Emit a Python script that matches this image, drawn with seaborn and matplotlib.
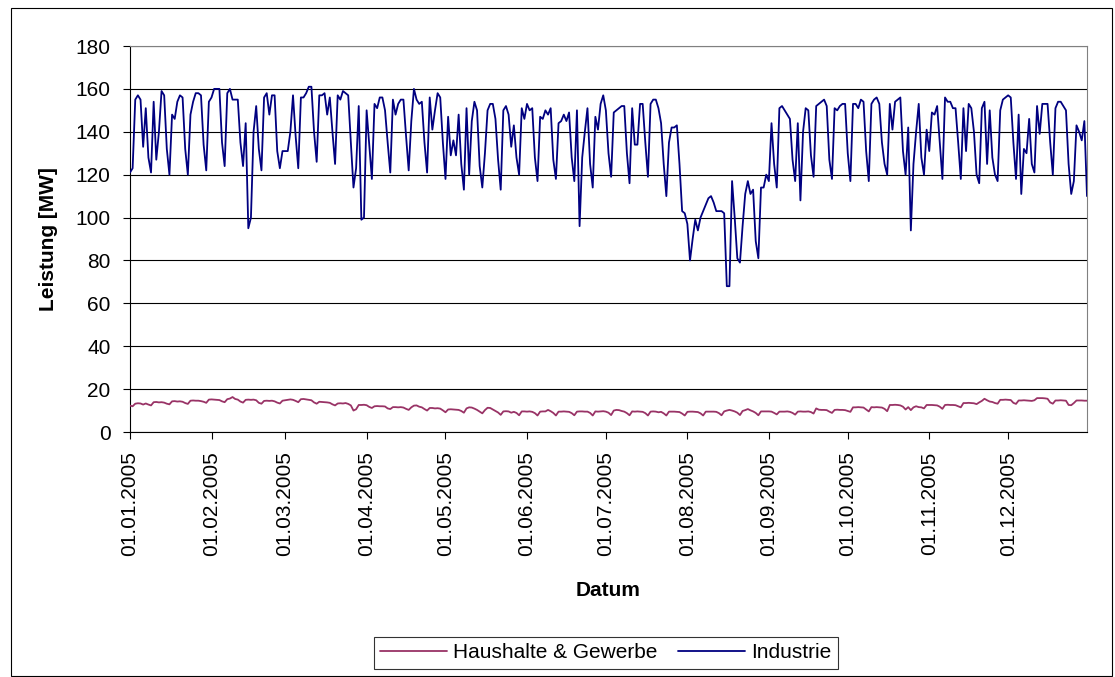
import matplotlib
matplotlib.use("Agg")
import matplotlib.pyplot as plt
import matplotlib.dates as mdates
from matplotlib.patches import Rectangle
import numpy as np
import pandas as pd
import seaborn as sns

# ─── DATA (daily values 2005, rows = Sat..Fri) ───────────────────────────────

industrie = [
    121, 123, 155, 157, 155, 133, 151,
    128, 121, 154, 127, 140, 159, 157,
    132, 120, 148, 146, 154, 157, 156,
    132, 120, 148, 154, 158, 158, 157,
    134, 122, 154, 156, 160, 160, 160,
    135, 124, 158, 160, 155, 155, 155,
    135, 124, 144, 95, 100, 140, 152,
    132, 122, 156, 158, 148, 157, 157,
    131, 123, 131, 131, 131, 140, 157,
    138, 123, 156, 156, 158, 161, 161,
    140, 126, 157, 157, 158, 148, 156,
    140, 125, 157, 155, 159, 158, 157,
    135, 114, 123, 152, 99, 100, 150,
    134, 118, 153, 151, 156, 156, 150,
    135, 121, 155, 148, 153, 155, 155,
    138, 122, 145, 160, 155, 153, 154,
    135, 121, 156, 141, 150, 158, 156,
    135, 118, 147, 129, 136, 129, 148,
    125, 113, 151, 120, 145, 154, 150,
    124, 114, 130, 150, 153, 153, 146,
    127, 113, 150, 152, 148, 133, 143,
    128, 120, 151, 146, 153, 150, 151,
    128, 117, 147, 146, 150, 148, 151,
    127, 118, 144, 145, 148, 145, 149,
    128, 117, 150, 96, 128, 140, 151,
    125, 114, 147, 141, 153, 157, 150,
    130, 119, 149, 150, 151, 152, 152,
    130, 116, 151, 134, 134, 153, 153,
    135, 119, 153, 155, 155, 151, 144,
    125, 110, 135, 142, 142, 143, 125,
    103, 102, 97, 80, 90, 99, 94,
    100, 103, 106, 109, 110, 107, 103,
    103, 103, 102, 68, 68, 117, 100,
    81, 79, 96, 111, 117, 111, 113,
    89, 81, 114, 114, 120, 117, 144,
    125, 114, 151, 152, 150, 148, 146,
    127, 117, 144, 108, 140, 151, 150,
    129, 119, 152, 153, 154, 155, 152,
    127, 118, 151, 150, 152, 153, 153,
    130, 117, 153, 153, 151, 155, 154,
    131, 117, 153, 155, 156, 153, 135,
    125, 120, 153, 141, 154, 155, 156,
    131, 120, 142, 94, 125, 140, 153,
    128, 120, 141, 131, 149, 148, 152,
    135, 118, 156, 154, 154, 151, 151,
    135, 118, 151, 131, 153, 151, 140,
    120, 116, 151, 154, 125, 150, 128,
    120, 117, 150, 155, 156, 157, 156,
    135, 118, 148, 111, 132, 130, 146,
    125, 121, 152, 139, 153, 153, 153,
    135, 120, 151, 154, 154, 152, 150,
    125, 111, 117, 143, 140, 136, 145,
    110,
]

haushalte = [
    12.3, 12.0, 13.2, 13.4, 13.3, 12.8, 13.3,
    12.8, 12.4, 13.9, 14.0, 13.8, 13.9, 13.7,
    13.2, 12.9, 14.3, 14.4, 14.2, 14.3, 14.1,
    13.5, 13.1, 14.6, 14.7, 14.6, 14.6, 14.4,
    14.1, 13.6, 15.1, 15.2, 15.1, 15.0, 14.9,
    14.3, 13.9, 15.3, 15.6, 16.3, 15.4, 15.1,
    14.2, 13.7, 15.0, 15.1, 15.0, 15.1, 14.8,
    13.6, 13.2, 14.5, 14.6, 14.5, 14.6, 14.3,
    13.7, 13.3, 14.6, 14.8, 15.0, 15.2, 15.0,
    14.5, 13.9, 15.3, 15.4, 15.2, 15.0, 14.8,
    13.8, 13.2, 14.1, 14.0, 13.9, 13.8, 13.6,
    12.9, 12.4, 13.3, 13.4, 13.3, 13.5, 13.1,
    12.4, 10.0, 10.6, 12.6, 12.6, 12.7, 12.5,
    11.7, 11.2, 12.0, 12.1, 12.0, 12.0, 11.9,
    11.0, 10.7, 11.6, 11.6, 11.5, 11.6, 11.4,
    10.8, 10.3, 11.5, 12.3, 12.4, 11.8, 11.5,
    10.7, 10.0, 11.2, 11.2, 11.0, 11.1, 10.9,
    10.1, 9.2, 10.5, 10.6, 10.5, 10.4, 10.3,
    9.8, 9.0, 11.0, 11.5, 11.4, 10.9, 10.3,
    9.5, 8.7, 10.2, 11.3, 11.2, 10.5, 9.8,
    9.1, 8.0, 9.6, 9.7, 9.6, 9.0, 9.4,
    8.9, 7.8, 9.6, 9.6, 9.5, 9.6, 9.4,
    8.8, 7.7, 9.5, 9.6, 9.6, 10.3, 9.7,
    8.9, 7.7, 9.5, 9.5, 9.6, 9.5, 9.4,
    8.8, 7.8, 9.5, 9.6, 9.6, 9.5, 9.5,
    8.9, 7.7, 9.6, 9.5, 9.6, 9.7, 9.5,
    9.0, 7.9, 10.0, 10.3, 10.2, 9.8, 9.5,
    8.8, 7.8, 9.6, 9.5, 9.6, 9.5, 9.4,
    8.8, 7.7, 9.5, 9.6, 9.5, 9.2, 9.4,
    8.7, 7.7, 9.5, 9.5, 9.5, 9.4, 9.3,
    8.6, 7.7, 9.4, 9.5, 9.5, 9.4, 9.3,
    8.7, 7.7, 9.5, 9.5, 9.5, 9.5, 9.4,
    8.8, 7.8, 9.6, 10.0, 10.3, 10.0, 9.6,
    9.0, 7.9, 9.8, 10.2, 10.7, 10.1, 9.6,
    8.9, 7.8, 9.6, 9.6, 9.6, 9.6, 9.5,
    8.9, 8.2, 9.5, 9.5, 9.5, 9.6, 9.4,
    8.9, 8.1, 9.5, 9.6, 9.5, 9.5, 9.6,
    9.3, 8.6, 11.0, 10.4, 10.3, 10.3, 10.2,
    9.5, 8.9, 10.3, 10.4, 10.3, 10.3, 10.2,
    9.8, 9.4, 11.5, 11.5, 11.6, 11.5, 11.4,
    10.5, 9.6, 11.6, 11.5, 11.6, 11.5, 11.4,
    10.8, 9.7, 12.6, 12.6, 12.7, 12.6, 12.4,
    11.8, 10.5, 11.6, 10.2, 11.5, 12.0, 11.6,
    11.5, 11.0, 12.6, 12.6, 12.6, 12.5, 12.4,
    11.8, 10.8, 12.6, 12.7, 12.6, 12.6, 12.5,
    12.0, 11.5, 13.5, 13.5, 13.6, 13.5, 13.4,
    13.0, 13.8, 14.5, 15.5, 14.8, 14.2, 14.0,
    13.5, 13.2, 15.0, 15.0, 15.1, 15.0, 14.9,
    13.6, 13.1, 14.7, 14.7, 14.8, 14.7, 14.6,
    14.5, 14.8, 15.8, 15.8, 15.8, 15.7, 15.5,
    13.8, 13.2, 14.7, 14.7, 14.8, 14.7, 14.6,
    12.6, 12.5, 13.5, 14.7, 14.7, 14.7, 14.6,
    14.6,
]

series_names = ["Haushalte & Gewerbe", "Industrie"]
series_colors = ["#993366", "#000080"]
y_ticks = list(range(0, 181, 20))

dates = pd.date_range("2005-01-01", periods=len(industrie), freq="D")

df = pd.concat([
    pd.DataFrame({"Datum": dates, "Leistung": haushalte, "Serie": series_names[0]}),
    pd.DataFrame({"Datum": dates, "Leistung": industrie, "Serie": series_names[1]}),
], ignore_index=True)

# ─── PLOT ────────────────────────────────────────────────────────────────────

sns.set_theme(style="white")
plt.rcParams["font.family"] = ["Liberation Sans", "DejaVu Sans"]
plt.rcParams.update({"text.color": "black", "axes.labelcolor": "black",
                     "xtick.color": "black", "ytick.color": "black"})

fig = plt.figure(figsize=(11.15, 6.77), dpi=100)
ax = fig.add_axes([130 / 1115, 1 - 432 / 677, 957 / 1115, 386 / 677])

sns.lineplot(data=df, x="Datum", y="Leistung", hue="Serie",
             palette=dict(zip(series_names, series_colors)),
             linewidth=1.3, ax=ax, legend=False, zorder=3)

ax.set_xlim(dates[0], dates[-1])
ax.set_ylim(0, 180)
ax.set_yticks(y_ticks)
ax.yaxis.grid(True, color="black", linewidth=0.8)
ax.set_axisbelow(True)

ax.xaxis.set_major_locator(mdates.MonthLocator())
ax.xaxis.set_major_formatter(mdates.DateFormatter("%d.%m.%Y"))
plt.setp(ax.get_xticklabels(), rotation=90, ha="center", va="top")

ax.tick_params(axis="both", labelsize=15, length=5, width=0.8, color="black",
               labelcolor="black", direction="out", bottom=True, left=True)
ax.tick_params(axis="x", pad=9)
ax.tick_params(axis="y", pad=9)

for side in ["left", "bottom"]:
    ax.spines[side].set_color("black")
    ax.spines[side].set_linewidth(0.8)
for side in ["top", "right"]:
    ax.spines[side].set_color("#808080")
    ax.spines[side].set_linewidth(0.8)

ax.set_ylabel("Leistung [MW]", fontsize=15, weight="bold", color="black")
ax.set_xlabel("Datum", fontsize=15, weight="bold", color="black")
ax.yaxis.set_label_coords(-0.075, 0.5)
ax.xaxis.set_label_coords(0.5, -0.385)

handles = [plt.Line2D([], [], color=c, linewidth=1.3) for c in series_colors]
leg = fig.legend(handles, series_names, loc="center", ncol=2,
                 bbox_to_anchor=(606 / 1115, 1 - 653 / 677),
                 fontsize=15, frameon=True, fancybox=False,
                 handlelength=3.2, handletextpad=0.3, columnspacing=1.0,
                 borderpad=0.3, edgecolor="black")
leg.get_frame().set_linewidth(0.8)
for t in leg.get_texts():
    t.set_color("black")

fig.patches.append(Rectangle((11 / 1115, 1 / 677), 1101 / 1115, 668 / 677,
                             transform=fig.transFigure, fill=False,
                             edgecolor="black", linewidth=0.8))

fig.savefig("out.png", dpi=100)
